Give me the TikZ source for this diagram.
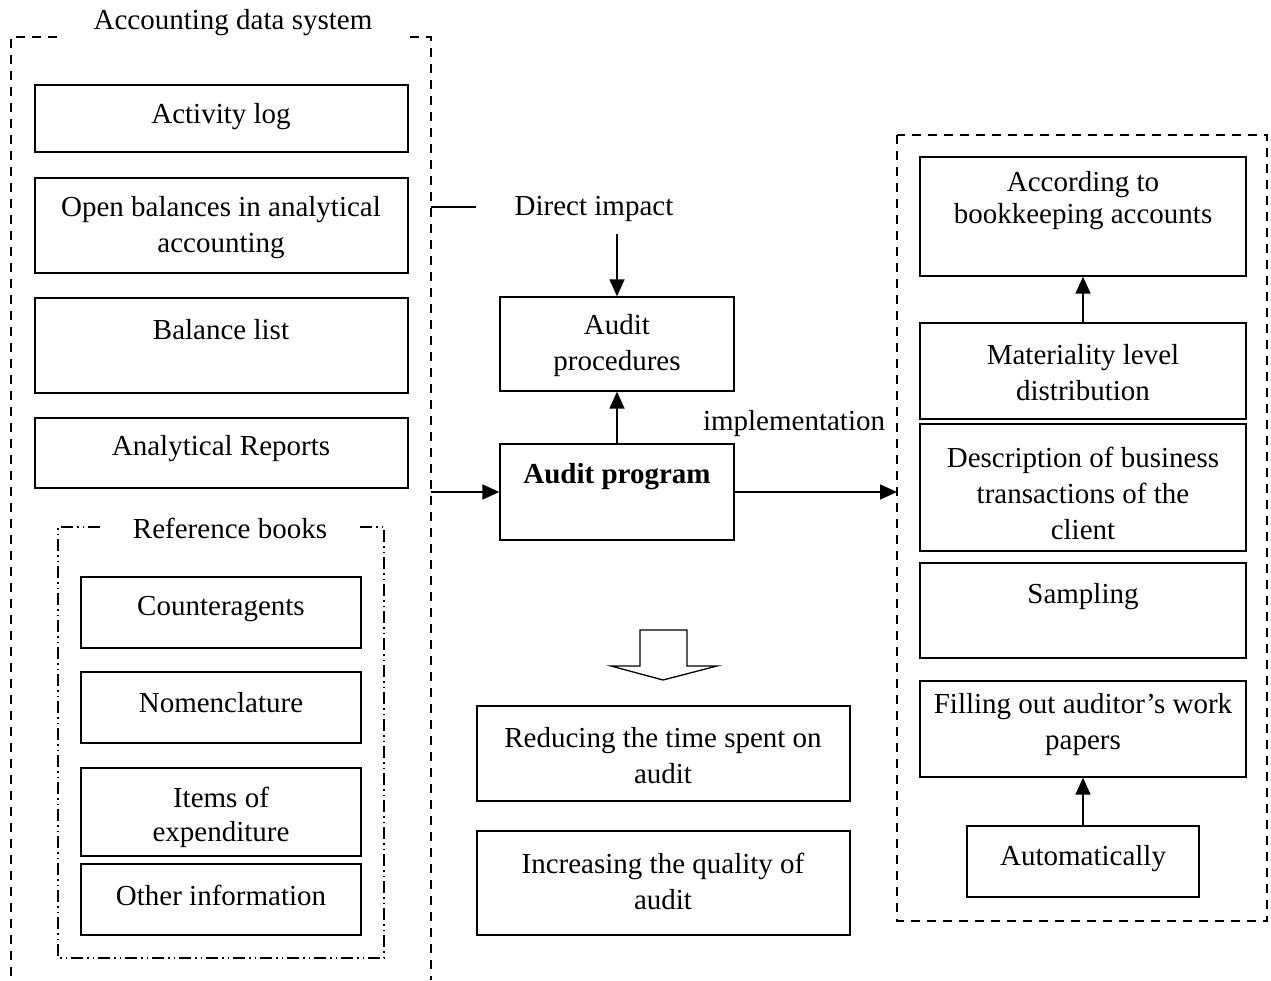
\documentclass[tikz,border=0pt]{standalone}
\usepackage{fontspec}
\setmainfont{Liberation Serif}
\usetikzlibrary{arrows.meta}
\begin{document}
\begin{tikzpicture}[x=1pt,y=-1pt,
  every node/.style={font=\fontsize{29}{36}\selectfont, align=center, inner sep=0pt},
  lbl/.style={yshift=-3pt},
  box/.style={draw, line width=1.3pt, rectangle, inner sep=0pt},
  frame/.style={line width=1.2pt, dash pattern=on 9pt off 7pt},
  dotframe/.style={line width=1.2pt, dash pattern=on 12pt off 4pt on 1.5pt off 4pt on 1.5pt off 4pt},
  arr/.style={line width=1.6pt, -{Triangle[length=17pt,width=15pt]}},
  plain/.style={line width=1.3pt}]
\useasboundingbox (0,0) rectangle (1271,980);

% accounting data system frame (open at the bottom)
\draw[frame] (57,37) -- (11,37) -- (11,980);
\draw[frame] (410,37) -- (431,37) -- (431,980);
\node[lbl] (adstitle) at (233,20) {Accounting data system};

\node[box, minimum width=373pt, minimum height=67pt] (act) at (221.5,118.5) {};
\node[lbl] (actT) at (221,114) {Activity log};
\node[box, minimum width=373pt, minimum height=95pt] (open) at (221.5,225.5) {};
\node[lbl] (openT) at (221,225) {Open balances in analytical\\accounting};
\node[box, minimum width=373pt, minimum height=95pt] (bal) at (221.5,345.5) {};
\node[lbl] (balT) at (221,327) {Balance list};
\node[box, minimum width=373pt, minimum height=70pt] (anr) at (221.5,453) {};
\node[lbl] (anrT) at (221,446) {Analytical Reports};

% reference books frame
\draw[dotframe] (100,527) -- (58,527) -- (58,958) -- (384,958) -- (384,527) -- (360,527);
\node[lbl] (refT) at (230,525) {Reference books};
\node[box, minimum width=280pt, minimum height=71pt] (cnt) at (221,612.5) {};
\node[lbl] (cntT) at (221,606) {Counteragents};
\node[box, minimum width=280pt, minimum height=71pt] (nom) at (221,707.5) {};
\node[lbl] (nomT) at (221,700) {Nomenclature};
\node[box, minimum width=280pt, minimum height=88pt] (items) at (221,812) {};
\node[lbl, font=\fontsize{29}{34}\selectfont] (itemsT) at (221,814) {Items of\\expenditure};
\node[box, minimum width=280pt, minimum height=71pt] (other) at (221,899.5) {};
\node[lbl] (otherT) at (221,892) {Other information};

% centre column
\coordinate (dl1) at (431,207);
\coordinate (dl2) at (476,207);
\draw[plain] (dl1) -- (dl2);
\node[lbl] (direct) at (594,206) {Direct impact};
\coordinate (dia) at (617,234);

\node[box, minimum width=234pt, minimum height=94pt] (proc) at (617,344) {};
\node[lbl] (procT) at (617,343) {Audit\\procedures};
\node[box, minimum width=234pt, minimum height=96pt] (prog) at (617,492) {};
\node[lbl, font=\fontsize{29}{36}\selectfont\bfseries] (progT) at (617,474) {Audit program};
\node[lbl] (impl) at (794,421) {implementation};

\coordinate (lf) at (431,492);
\coordinate (rf) at (897,492);
\draw[arr] (dia) -- (proc.north);
\draw[arr] (prog.north) -- (proc.south);
\draw[arr] (lf) -- (prog.west);
\draw[arr] (prog.east) -- (rf);

% hollow result arrow
\draw[line width=1.3pt, line join=miter] (640,630) -- (687,630) -- (687,666) -- (717,666)
  -- (663,680) -- (611,666) -- (640,666) -- cycle;

\node[box, minimum width=373pt, minimum height=95pt] (red) at (663.5,753.5) {};
\node[lbl] (redT) at (663,753) {Reducing the time spent on\\audit};
\node[box, minimum width=373pt, minimum height=104pt] (inc) at (663.5,883) {};
\node[lbl] (incT) at (663,878) {Increasing the quality of\\audit};

% implementation frame
\draw[frame] (897,135) rectangle (1267,921);
\node[box, minimum width=326pt, minimum height=119pt] (acc) at (1083,216.5) {};
\node[lbl, font=\fontsize{29}{32}\selectfont] (accT) at (1083,198) {According to\\bookkeeping accounts};
\node[box, minimum width=326pt, minimum height=96pt] (mat) at (1083,371) {};
\node[lbl] (matT) at (1083,370) {Materiality level\\distribution};
\node[box, minimum width=326pt, minimum height=127pt] (desc) at (1083,487.5) {};
\node[lbl] (descT) at (1083,490) {Description of business\\transactions of the\\client};
\node[box, minimum width=326pt, minimum height=95pt] (samp) at (1083,610.5) {};
\node[lbl] (sampT) at (1083,594) {Sampling};
\node[box, minimum width=326pt, minimum height=96pt] (fill) at (1083,729) {};
\node[lbl] (fillT) at (1083,722) {Filling out auditor’s work\\papers};
\node[box, minimum width=232pt, minimum height=71pt] (auto) at (1083,861.5) {};
\node[lbl] (autoT) at (1083,856) {Automatically};

\draw[arr] (mat.north) -- (acc.south);
\draw[arr] (auto.north) -- (fill.south);
\end{tikzpicture}
\end{document}
